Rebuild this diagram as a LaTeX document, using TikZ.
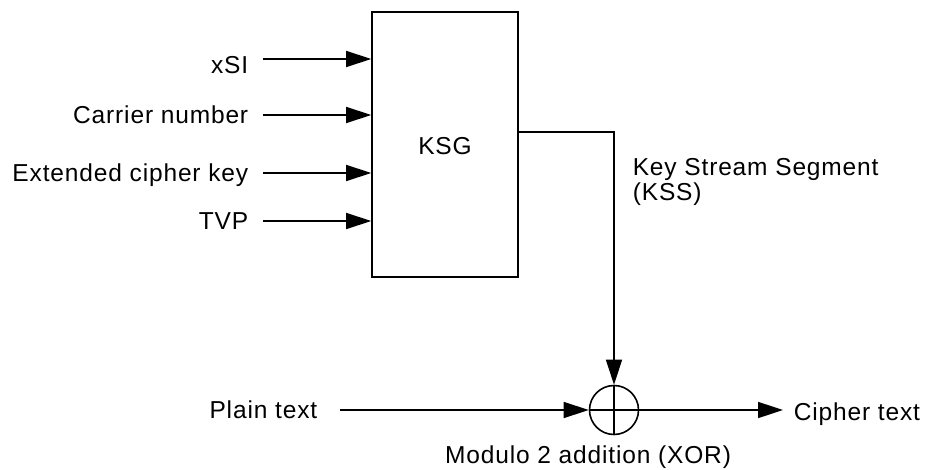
\documentclass[tikz,border=0pt]{standalone}
\usepackage{fontspec}
\setmainfont{Liberation Sans}[LetterSpace=3.5]
\usetikzlibrary{arrows.meta}

\tikzset{every picture/.style={line width=1.6pt}}
\tikzset{
  lbl/.style={inner sep=0pt,text height=17.5pt,text depth=0pt,font=\fontsize{24.5}{25}\selectfont},
  inlbl/.style={lbl,anchor=east,inner xsep=14pt},
  arr/.style={-{Triangle[length=25pt,width=16pt]}},
}

\begin{document}
\begin{tikzpicture}[x=1pt,y=1pt,yscale=-1,xscale=1]
	\useasboundingbox (0,0) rectangle (925,470);

	% KSG box
	\node [draw, minimum width=146pt, minimum height=265pt, lbl] (ksg) at (445,144.5) {};
	\node [lbl] (ksglbl) at (445,146) {KSG};
	% XOR
	\node [draw, circle, minimum size=49pt, inner sep=0pt] (xor) at (614,410) {};
	\draw (xor.north) -- (xor.south);
	\draw (xor.west) -- (xor.east);

	% Input labels
	\node [inlbl] (xsi) at (263,65) {xSI};
	\node [inlbl] (carrier) at (263,115) {Carrier number};
	\node [inlbl] (ckey) at (263,173) {Extended cipher key};
	\node [inlbl] (tvp) at (263,221) {TVP};

	\draw [arr] ([yshift=-6pt]xsi.east) -- ([yshift=-6pt]xsi.east -| ksg.west);
	\draw [arr] (carrier.east) -- (carrier.east -| ksg.west);
	\draw [arr] (ckey.east) -- (ckey.east -| ksg.west);
	\draw [arr] (tvp.east) -- (tvp.east -| ksg.west);

	% Key stream
	\coordinate (kssout) at (ksg.east |- 0,132);
	\draw [arr] (kssout) -| (xor.north);
	\node [anchor=north west, align=left, inner sep=0pt, font=\fontsize{24.5}{25}\selectfont] (kss) at (632,158) {Key Stream Segment\\(KSS)};

	% Plain / cipher text
	\node [lbl, anchor=east, inner xsep=22pt] (plain) at (340,410) {Plain text};
	\draw [arr] (plain.east) -- (xor.west);
	\coordinate (cend) at (783,410);
	\draw [arr] (xor.east) -- (cend);
	\node [lbl, anchor=west, inner xsep=10pt] (cipher) at (783,412) {Cipher text};

	\node [lbl] (modlbl) at (588,455) {Modulo 2 addition (XOR)};
\end{tikzpicture}
\end{document}
